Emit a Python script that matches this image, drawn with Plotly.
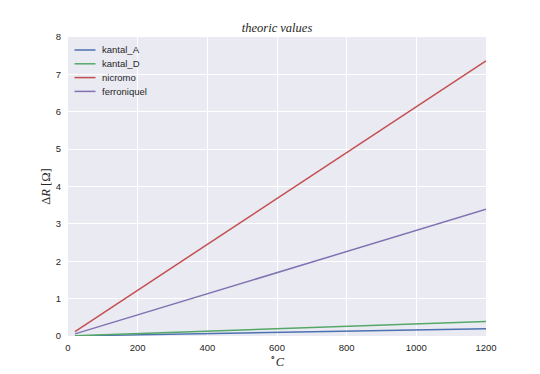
import plotly.graph_objects as go

temps = [20, 1200]
kantal_A = [0.003, 0.195]
kantal_D = [0.006, 0.385]
nicromo = [0.12, 7.36]
ferroniquel = [0.057, 3.39]

names = ["kantal_A", "kantal_D", "nicromo", "ferroniquel"]
series = [kantal_A, kantal_D, nicromo, ferroniquel]
colors = ["#4C72B0", "#55A868", "#C44E52", "#8172B2"]

x_ticks = [0, 200, 400, 600, 800, 1000, 1200]
y_ticks = [0, 1, 2, 3, 4, 5, 6, 7, 8]

# plot area in pixels
L, R, T, B = 68, 486, 37, 336
W, H = R - L, B - T


def px(x):
    return (x - L) / W


def py(y):
    return (B - y) / H


fig = go.Figure()
for n, s, c in zip(names, series, colors):
    fig.add_trace(go.Scatter(x=temps, y=s, mode="lines", name=n,
                             line=dict(color=c, width=1.5), showlegend=False))

# compact legend (matplotlib style)
shapes = []
annotations = []
for i, (n, c) in enumerate(zip(names, colors)):
    yy = 50 + i * 13.8
    shapes.append(dict(type="line", xref="paper", yref="paper",
                       x0=px(74.5), x1=px(95.5), y0=py(yy), y1=py(yy),
                       line=dict(color=c, width=1.5)))
    annotations.append(dict(text=n, xref="paper", yref="paper", x=px(100), y=py(yy),
                            xanchor="left", yanchor="middle", showarrow=False,
                            font=dict(size=9.5, color="#262626")))

fig.update_layout(
    width=540, height=374,
    margin=dict(l=L, r=540 - R, t=T, b=374 - B, autoexpand=False),
    paper_bgcolor="white",
    plot_bgcolor="#EAEAF2",
    font=dict(family="Liberation Sans, Arial, sans-serif", size=9.5, color="#262626"),
    title=dict(text="<i>theoric values</i>", x=0.513, xanchor="center", y=0.925, yanchor="middle",
               font=dict(family="Liberation Serif, serif", size=12.5, color="#262626")),
    showlegend=False,
    shapes=shapes,
    annotations=annotations,
    xaxis=dict(range=[0, 1200], tickvals=x_ticks, showgrid=True, gridcolor="white", gridwidth=1,
               zeroline=False, showline=False, ticks="", ticklen=0, ticklabelstandoff=4,
               automargin=False,
               title=dict(text="<sup>∘</sup><i>C</i>", font=dict(family="Liberation Serif, serif", size=12.5), standoff=0)),
    yaxis=dict(range=[0, 8], tickvals=y_ticks, showgrid=True, gridcolor="white", gridwidth=1,
               zeroline=False, showline=False, ticks="", ticklen=0, ticklabelstandoff=6,
               automargin=False,
               title=dict(text="Δ<i>R</i> [Ω]", font=dict(family="Liberation Serif, serif", size=12.5), standoff=2)),
)

fig.write_html("out.html")
